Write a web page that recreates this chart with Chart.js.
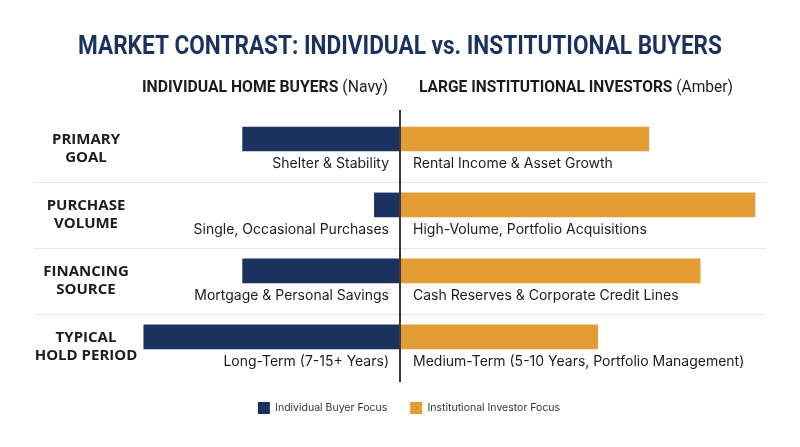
<!DOCTYPE html>
<html>
<head>
<meta charset="utf-8">
<script src="https://cdn.jsdelivr.net/npm/chart.js@4.4.1/dist/chart.umd.min.js"></script>
<style>
  html, body { margin: 0; padding: 0; background: #ffffff; }
  #wrap { width: 800px; height: 447px; }
</style>
</head>
<body>
<div id="wrap"><canvas id="contrastChart" width="800" height="447"></canvas></div>
<script>
// Datos de la gráfica
const categories = [['PRIMARY', 'GOAL'], ['PURCHASE', 'VOLUME'], ['FINANCING', 'SOURCE'], ['TYPICAL', 'HOLD PERIOD']];
const individualValues = [43, 7, 43, 70];
const institutionalValues = [68, 97, 82, 54];
const individualLabels = ['Shelter & Stability', 'Single, Occasional Purchases', 'Mortgage & Personal Savings', 'Long-Term (7-15+ Years)'];
const institutionalLabels = ['Rental Income & Asset Growth', 'High-Volume, Portfolio Acquisitions', 'Cash Reserves & Corporate Credit Lines', 'Medium-Term (5-10 Years, Portfolio Management)'];
const seriesNames = ['Individual Buyer Focus', 'Institutional Investor Focus'];
const chartTitle = 'MARKET CONTRAST: INDIVIDUAL vs. INSTITUTIONAL BUYERS';
const leftHeader = ['INDIVIDUAL HOME BUYERS', ' (Navy)'];
const rightHeader = ['LARGE INSTITUTIONAL INVESTORS', ' (Amber)'];

const NAVY = '#1b325e';
const AMBER = '#e39d35';
const TEXT = '#1c1c1c';

// Texto condensado (no hay fuentes estrechas instaladas)
function drawCondensed(ctx, parts, x, y, width, align) {
    let total = 0;
    parts.forEach(p => { ctx.font = p.font; total += ctx.measureText(p.text).width; });
    const k = width / total;
    ctx.save();
    ctx.translate(align === 'right' ? x - width : (align === 'center' ? x - width / 2 : x), y);
    ctx.scale(k, 1);
    ctx.textAlign = 'left';
    ctx.textBaseline = 'middle';
    let cx = 0;
    parts.forEach(p => {
        ctx.font = p.font;
        ctx.fillStyle = p.color;
        ctx.fillText(p.text, cx, 0);
        cx += ctx.measureText(p.text).width;
    });
    ctx.restore();
}

// Dibuja separadores, linea central, textos y encabezados
const annotations = {
    id: 'annotations',
    afterLayout(chart) {
        // la leyenda va un poco a la derecha en el original
        chart.legend.left += 9;
        chart.legend.right += 9;
    },
    beforeDatasetsDraw(chart) {
        const ctx = chart.ctx;
        const y = chart.scales.y;
        ctx.save();
        ctx.strokeStyle = '#e6e6e6';
        ctx.lineWidth = 1;
        for (let i = 0; i < categories.length - 1; i++) {
            const py = Math.round(y.getPixelForValue(i) + 43.5) + 0.5;
            ctx.beginPath();
            ctx.moveTo(34, py);
            ctx.lineTo(766, py);
            ctx.stroke();
        }
        ctx.restore();
    },
    afterDatasetsDraw(chart) {
        const ctx = chart.ctx;
        const x = chart.scales.x;
        const y = chart.scales.y;
        const zero = x.getPixelForValue(0);
        ctx.save();

        // titulo
        drawCondensed(ctx, [{ text: chartTitle, font: 'bold 25px Roboto', color: NAVY }], 400, 48, 644, 'center');

        // encabezados de columnas
        drawCondensed(ctx, [
            { text: leftHeader[0], font: 'bold 16px Roboto', color: TEXT },
            { text: leftHeader[1], font: '16px Roboto', color: TEXT }
        ], zero - 12, 88, 246, 'right');
        drawCondensed(ctx, [
            { text: rightHeader[0], font: 'bold 16px Roboto', color: TEXT },
            { text: rightHeader[1], font: '16px Roboto', color: TEXT }
        ], zero + 19, 88, 314, 'left');

        // linea central
        ctx.strokeStyle = '#3a3a3a';
        ctx.lineWidth = 2;
        ctx.beginPath();
        ctx.moveTo(zero, 110);
        ctx.lineTo(zero, 382);
        ctx.stroke();

        ctx.textBaseline = 'middle';
        categories.forEach((cat, i) => {
            const cy = y.getPixelForValue(i);
            // etiquetas de categoria
            ctx.font = 'bold 15px "Open Sans"';
            ctx.textAlign = 'center';
            ctx.fillStyle = TEXT;
            ctx.fillText(cat[0], 86, cy + 0.5);
            ctx.fillText(cat[1], 86, cy + 18.5);
            // etiquetas de barras
            ctx.font = '14px Inter';
            ctx.textAlign = 'right';
            ctx.fillText(individualLabels[i], zero - 11, cy + 24.5);
            ctx.textAlign = 'left';
            ctx.fillText(institutionalLabels[i], zero + 13, cy + 24.5);
        });
        ctx.restore();
    }
};

const ctx = document.getElementById('contrastChart').getContext('2d');
const contrastChart = new Chart(ctx, {
    type: 'bar',
    data: {
        datasets: [
            {
                label: seriesNames[0],
                data: individualValues.map((v, i) => ({ x: -v, y: i })),
                backgroundColor: NAVY,
                barThickness: 24
            },
            {
                label: seriesNames[1],
                data: institutionalValues.map((v, i) => ({ x: v, y: i })),
                backgroundColor: AMBER,
                barThickness: 24
            }
        ]
    },
    options: {
        indexAxis: 'y',
        responsive: false,
        animation: false,
        layout: {
            padding: { left: 34, right: 34, top: 106, bottom: 23 }
        },
        scales: {
            x: { type: 'linear', display: false, stacked: true, offset: false, min: -100, max: 100 },
            y: { type: 'linear', display: false, stacked: true, offset: false, reverse: true, min: -0.5, max: 3.64 }
        },
        plugins: {
            legend: {
                position: 'bottom',
                labels: {
                    boxWidth: 12,
                    boxHeight: 12,
                    padding: 23,
                    color: '#333333',
                    font: { family: 'Inter', size: 10.5 }
                }
            },
            tooltip: { enabled: false }
        }
    },
    plugins: [annotations]
});
</script>
</body>
</html>
